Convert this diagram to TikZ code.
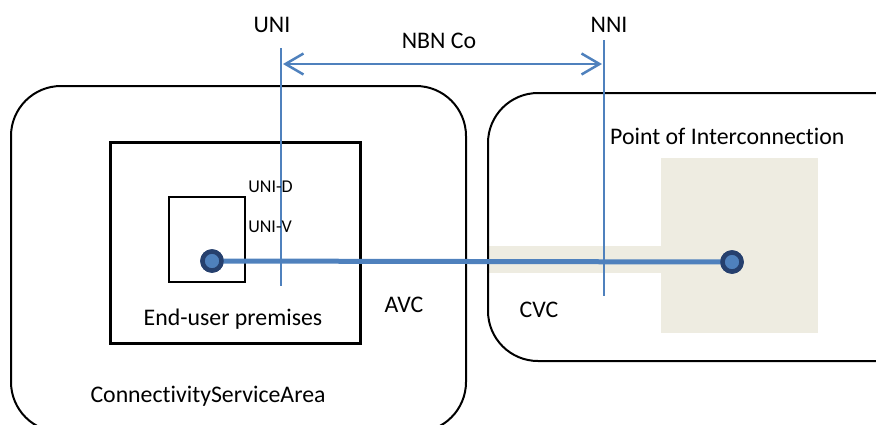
\documentclass[tikz,border=0pt]{standalone}
\usepackage{fontspec}
\setmainfont{Carlito}[Ligatures={NoCommon}]
\usetikzlibrary{arrows.meta}
\definecolor{lineblue}{HTML}{4F81BD}
\definecolor{dotnavy}{RGB}{38,64,110}
\definecolor{beige}{HTML}{EEECE1}
\tikzset{
  bigtxt/.style={font=\fontsize{23.8}{28}\selectfont, inner sep=0pt},
  smalltxt/.style={font=\fontsize{18}{21}\selectfont, inner sep=0pt},
  area/.style={draw=black, line width=2pt, rounded corners=50pt},
  boxthick/.style={draw=black, line width=3pt},
  boxthin/.style={draw=black, line width=1.6pt},
  ifline/.style={draw=lineblue, line width=2pt},
  dotnode/.style={circle, fill=lineblue, draw=dotnavy, line width=4.5pt, minimum size=19pt, inner sep=0pt},
  beigefill/.style={fill=beige, draw=none}
}
\begin{document}
\begin{tikzpicture}[x=1pt,y=-1pt]
\useasboundingbox (0,0) rectangle (876,424);
\begin{scope}
\clip (0,0) rectangle (876,424);
% beige interconnection areas
\fill[beigefill] (661,158) rectangle (818,333);
\fill[beigefill] (488,246) rectangle (661,273);
% areas
\draw[area] (488,93) rectangle (930,361);
\draw[area] (11,86) rectangle (466,432);
\end{scope}
% premises boxes
\node[boxthick, minimum width=250pt, minimum height=201pt, anchor=north west, inner sep=0pt] (prem) at (109,141) {};
\node[boxthin, minimum width=76pt, minimum height=85pt, anchor=north west, inner sep=0pt] (dev) at (168,196) {};
% interface lines
\coordinate (unitop) at (281,48);
\coordinate (unibot) at (281,286);
\coordinate (nnitop) at (604,40);
\coordinate (nnibot) at (604,296);
\coordinate (arrL) at (281,64);
\coordinate (arrR) at (604,64);
% dots and connection
\node[dotnode] (d1) at (212,261) {};
\node[dotnode] (d2) at (732,262) {};
\draw[draw=lineblue, line width=5pt] (d1.center) -- (d2.center);
\node[dotnode] at (d1) {};
\node[dotnode] at (d2) {};
\draw[ifline] (unitop) -- (unibot);
\draw[ifline] (nnitop) -- (nnibot);
\draw[draw=lineblue, line width=2.5pt, {Straight Barb[length=18pt,width=21pt]}-{Straight Barb[length=18pt,width=21pt]}, shorten <=2pt, shorten >=2pt] (arrL) -- (arrR);
% labels
\node[bigtxt] (uni) at (272,25) {UNI};
\node[bigtxt] (nni) at (609,25) {NNI};
\node[bigtxt] (nbn) at (439,41) {NBN Co};
\node[smalltxt] (unid) at (270.5,187) {UNI-D};
\node[smalltxt] (univ) at (270,227) {UNI-V};
\node[bigtxt] (premlbl) at (233,319) {End-user premises};
\node[bigtxt] (avc) at (404,305) {AVC};
\node[bigtxt] (cvc) at (539,310) {CVC};
\node[bigtxt, anchor=west] (poi) at (610,136) {Point of Interconnection};
\node[bigtxt] (csa) at (208,396) {ConnectivityServiceArea};
\end{tikzpicture}
\end{document}
